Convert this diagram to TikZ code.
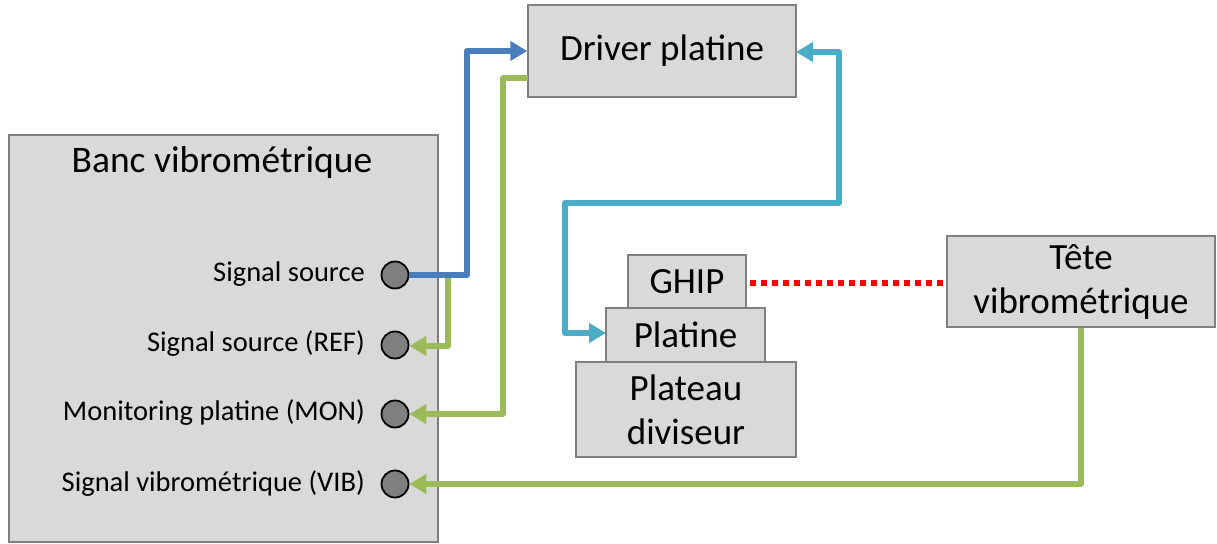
\documentclass[tikz,border=0pt]{standalone}
\usepackage{fontspec}
\setmainfont{Carlito}
\usetikzlibrary{arrows.meta}
\definecolor{boxfill}{HTML}{D9D9D9}
\definecolor{boxline}{HTML}{808080}
\definecolor{cblue}{HTML}{4A7EBB}
\definecolor{cgreen}{HTML}{9BBB59}
\definecolor{ccyan}{HTML}{4BACC6}
\definecolor{cred}{HTML}{FF0000}
\definecolor{portfill}{HTML}{7F7F7F}
\tikzset{
  box/.style={draw=boxline, line width=1.5pt, fill=boxfill, inner sep=0pt, anchor=center,
    font=\fontsize{37}{44}\selectfont, align=center},
  port/.style={circle, draw=black, line width=1.8pt, fill=portfill, minimum size=27pt, inner sep=0pt},
  plabel/.style={anchor=east, inner sep=0pt, font=\fontsize{28.5}{34}\selectfont},
  wire/.style={line width=5.5pt, line join=round, -{Triangle[length=17pt,width=19pt]}},
  dwire/.style={line width=5.5pt, line join=round, {Triangle[length=17pt,width=19pt]}-{Triangle[length=17pt,width=19pt]}},
}
\begin{document}
\begin{tikzpicture}[x=1pt,y=-1pt]
\useasboundingbox (0,0) rectangle (1217,543);
% boxes
\node[box, minimum width=429pt, minimum height=407pt] (banc) at (223.5,338.5) {};
\node[inner sep=0pt, font=\fontsize{37.5}{44}\selectfont] (banctitle) at (222,163) {Banc vibrométrique};
\node[box, minimum width=268pt, minimum height=92pt] (driver) at (662,51) {Driver platine};
\node[box, minimum width=220pt, minimum height=95pt] (plateau) at (686,409.5) {Plateau\\diviseur};
\node[box, minimum width=159pt, minimum height=54pt] (platine) at (685.5,335) {Platine};
\node[box, minimum width=118pt, minimum height=53pt] (ghip) at (687,281.5) {GHIP};
\node[box, minimum width=268pt, minimum height=91pt] (tete) at (1081,281.5) {Tête\\vibrométrique};
% ports
\node[port] (p1) at (395,275) {};
\node[port] (p2) at (395,345) {};
\node[port] (p3) at (395,414) {};
\node[port] (p4) at (395,484) {};
\node[plabel] (l1) at (365,274) {Signal source};
\node[plabel] (l2) at (365,344) {Signal source (REF)};
\node[plabel] (l3) at (365,413) {Monitoring platine (MON)};
\node[plabel] (l4) at (365,484) {Signal vibrométrique (VIB)};
% bend coordinates
\coordinate (g1s) at (448,275);
\coordinate (g1b) at (448,346);
\coordinate (b1) at (467,275);
\coordinate (mon0) at (528,78);
\coordinate (mon1) at (503,78);
\coordinate (cy1) at (839,52);
\coordinate (cy2) at (839,203);
\coordinate (cy3) at (565,203);
\coordinate (cy4) at (565,333);
\coordinate (d52) at (796,52);
\coordinate (pl333) at (606,333);
\coordinate (rd) at (750,283);
\coordinate (rt) at (947,283);
% connectors
\draw[wire, cgreen] (g1s) -- (g1b) -- (p2.east |- g1b);
\draw[wire, cblue] (p1.east) -- (b1) -- (b1 |- driver.west) -- (driver.west);
\draw[wire, cgreen] (mon0) -- (mon1) -- (mon1 |- p3.east) -- (p3.east);
\draw[dwire, ccyan] (d52) -- (cy1) -- (cy2) -- (cy3) -- (cy4) -- (pl333);
\draw[cred, line width=5.5pt, dash pattern=on 6pt off 5pt] (rd) -- (rt);
\draw[wire, cgreen] (tete.south) -- (tete.south |- p4.east) -- (p4.east);
\end{tikzpicture}
\end{document}
